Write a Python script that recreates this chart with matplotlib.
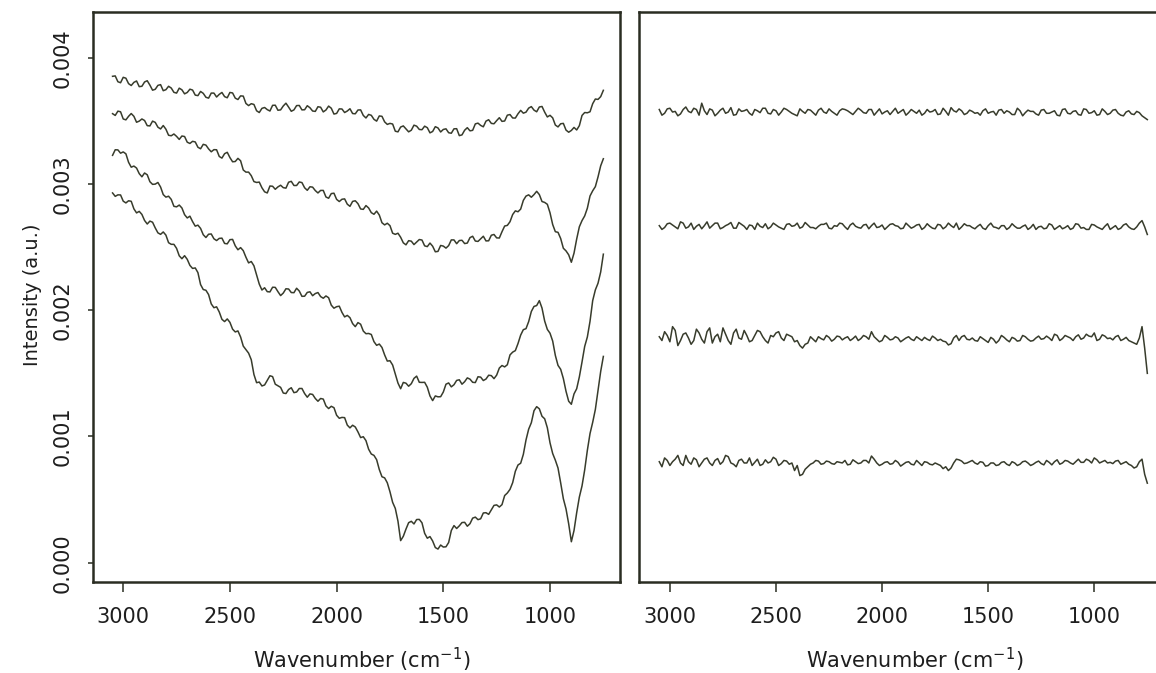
import matplotlib
matplotlib.use("Agg")
import matplotlib.pyplot as plt
import numpy as np

plt.rcParams['font.family'] = ['DejaVu Sans']
plt.rcParams['mathtext.default'] = 'regular'

# ---------------- data (intensity values in units of 1e-6 a.u.) ----------------
wavenumber = [3050, 3037.5, 3025, 3012.5, 3000, 2987.5, 2975, 2962.5, 2950, 2937.5,
              2925, 2912.5, 2900, 2887.5, 2875, 2862.5, 2850, 2837.5, 2825, 2812.5,
              2800, 2787.5, 2775, 2762.5, 2750, 2737.5, 2725, 2712.5, 2700, 2687.5,
              2675, 2662.5, 2650, 2637.5, 2625, 2612.5, 2600, 2587.5, 2575, 2562.5,
              2550, 2537.5, 2525, 2512.5, 2500, 2487.5, 2475, 2462.5, 2450, 2437.5,
              2425, 2412.5, 2400, 2387.5, 2375, 2362.5, 2350, 2337.5, 2325, 2312.5,
              2300, 2287.5, 2275, 2262.5, 2250, 2237.5, 2225, 2212.5, 2200, 2187.5,
              2175, 2162.5, 2150, 2137.5, 2125, 2112.5, 2100, 2087.5, 2075, 2062.5,
              2050, 2037.5, 2025, 2012.5, 2000, 1987.5, 1975, 1962.5, 1950, 1937.5,
              1925, 1912.5, 1900, 1887.5, 1875, 1862.5, 1850, 1837.5, 1825, 1812.5,
              1800, 1787.5, 1775, 1762.5, 1750, 1737.5, 1725, 1712.5, 1700, 1687.5,
              1675, 1662.5, 1650, 1637.5, 1625, 1612.5, 1600, 1587.5, 1575, 1562.5,
              1550, 1537.5, 1525, 1512.5, 1500, 1487.5, 1475, 1462.5, 1450, 1437.5,
              1425, 1412.5, 1400, 1387.5, 1375, 1362.5, 1350, 1337.5, 1325, 1312.5,
              1300, 1287.5, 1275, 1262.5, 1250, 1237.5, 1225, 1212.5, 1200, 1187.5,
              1175, 1162.5, 1150, 1137.5, 1125, 1112.5, 1100, 1087.5, 1075, 1062.5,
              1050, 1037.5, 1025, 1012.5, 1000, 987.5, 975, 962.5, 950, 937.5,
              925, 912.5, 900, 887.5, 875, 862.5, 850, 837.5, 825, 812.5,
              800, 787.5, 775, 762.5, 750]

left_a = [3853, 3856, 3810, 3802, 3845, 3838, 3795, 3780, 3805, 3816,
          3771, 3774, 3808, 3818, 3783, 3743, 3750, 3781, 3787, 3739,
          3747, 3774, 3760, 3726, 3720, 3759, 3746, 3714, 3725, 3751,
          3744, 3704, 3700, 3733, 3718, 3687, 3680, 3720, 3720, 3689,
          3710, 3725, 3692, 3683, 3725, 3721, 3680, 3669, 3698, 3696,
          3638, 3621, 3636, 3630, 3580, 3566, 3599, 3606, 3589, 3578,
          3623, 3624, 3584, 3587, 3618, 3640, 3609, 3576, 3587, 3621,
          3622, 3587, 3588, 3620, 3604, 3578, 3575, 3612, 3608, 3571,
          3586, 3617, 3600, 3554, 3559, 3595, 3594, 3566, 3578, 3596,
          3558, 3556, 3586, 3587, 3543, 3523, 3551, 3544, 3512, 3498,
          3539, 3536, 3492, 3472, 3480, 3475, 3418, 3413, 3451, 3460,
          3436, 3413, 3426, 3466, 3458, 3432, 3430, 3458, 3446, 3405,
          3416, 3454, 3444, 3412, 3432, 3437, 3406, 3402, 3437, 3438,
          3383, 3389, 3426, 3446, 3421, 3425, 3476, 3482, 3464, 3453,
          3498, 3509, 3480, 3477, 3502, 3525, 3496, 3499, 3545, 3550,
          3523, 3522, 3556, 3583, 3561, 3569, 3601, 3613, 3585, 3572,
          3610, 3614, 3569, 3531, 3544, 3524, 3467, 3452, 3477, 3480,
          3427, 3410, 3424, 3448, 3428, 3462, 3543, 3566, 3564, 3572,
          3636, 3673, 3670, 3692, 3742]

left_b = [3557, 3543, 3577, 3572, 3515, 3508, 3536, 3558, 3536, 3489,
          3498, 3515, 3503, 3462, 3460, 3498, 3488, 3450, 3436, 3463,
          3434, 3386, 3382, 3396, 3377, 3353, 3380, 3376, 3331, 3321,
          3338, 3333, 3291, 3279, 3314, 3308, 3278, 3255, 3272, 3271,
          3218, 3205, 3240, 3251, 3209, 3176, 3178, 3203, 3184, 3111,
          3094, 3094, 3066, 3019, 3012, 3015, 2970, 2938, 2929, 2984,
          2982, 2958, 2977, 2990, 2971, 2967, 3014, 3021, 2988, 2988,
          3016, 3011, 2970, 2950, 2978, 2975, 2948, 2929, 2949, 2949,
          2897, 2887, 2924, 2927, 2878, 2861, 2879, 2882, 2840, 2823,
          2862, 2867, 2844, 2802, 2799, 2829, 2810, 2773, 2760, 2785,
          2754, 2693, 2676, 2689, 2670, 2610, 2601, 2610, 2578, 2534,
          2518, 2551, 2547, 2520, 2540, 2560, 2556, 2510, 2504, 2532,
          2507, 2463, 2466, 2513, 2508, 2492, 2512, 2557, 2557, 2527,
          2552, 2554, 2528, 2532, 2575, 2586, 2548, 2545, 2566, 2586,
          2549, 2550, 2594, 2600, 2573, 2572, 2622, 2667, 2672, 2701,
          2758, 2787, 2780, 2801, 2870, 2904, 2914, 2895, 2916, 2942,
          2916, 2861, 2854, 2839, 2772, 2679, 2622, 2617, 2568, 2491,
          2470, 2439, 2380, 2452, 2564, 2661, 2710, 2747, 2808, 2905,
          2946, 2979, 3056, 3144, 3200]

left_c = [3227, 3271, 3270, 3244, 3254, 3239, 3172, 3133, 3142, 3126,
          3082, 3057, 3087, 3073, 3018, 2997, 2999, 3012, 2976, 2916,
          2896, 2903, 2878, 2823, 2819, 2833, 2810, 2757, 2731, 2745,
          2702, 2666, 2674, 2648, 2598, 2576, 2602, 2604, 2566, 2552,
          2569, 2571, 2529, 2526, 2559, 2561, 2510, 2479, 2496, 2472,
          2420, 2375, 2386, 2352, 2278, 2207, 2160, 2178, 2147, 2145,
          2182, 2181, 2147, 2116, 2136, 2170, 2168, 2140, 2139, 2174,
          2152, 2110, 2111, 2141, 2146, 2115, 2132, 2140, 2108, 2095,
          2113, 2099, 2040, 2016, 2028, 2032, 1983, 1947, 1959, 1941,
          1894, 1870, 1902, 1889, 1835, 1814, 1816, 1808, 1751, 1722,
          1732, 1705, 1646, 1597, 1600, 1566, 1496, 1423, 1378, 1428,
          1422, 1398, 1418, 1460, 1478, 1429, 1428, 1429, 1390, 1321,
          1284, 1321, 1314, 1315, 1352, 1414, 1424, 1393, 1410, 1444,
          1449, 1414, 1434, 1464, 1454, 1429, 1427, 1473, 1470, 1443,
          1455, 1485, 1482, 1458, 1486, 1542, 1562, 1551, 1568, 1646,
          1668, 1680, 1736, 1803, 1846, 1854, 1910, 1990, 2030, 2037,
          2076, 2017, 1914, 1848, 1818, 1756, 1642, 1563, 1532, 1459,
          1358, 1279, 1255, 1337, 1378, 1472, 1590, 1713, 1788, 1912,
          2076, 2161, 2214, 2303, 2444]

left_d = [2929, 2902, 2914, 2913, 2864, 2850, 2867, 2863, 2803, 2771,
          2783, 2759, 2711, 2683, 2706, 2697, 2652, 2613, 2601, 2620,
          2595, 2535, 2522, 2522, 2490, 2431, 2408, 2432, 2403, 2355,
          2331, 2335, 2298, 2203, 2164, 2158, 2124, 2050, 2020, 2027,
          1986, 1928, 1910, 1931, 1904, 1850, 1828, 1836, 1788, 1716,
          1688, 1660, 1608, 1491, 1426, 1431, 1400, 1408, 1444, 1481,
          1474, 1414, 1402, 1389, 1344, 1340, 1372, 1386, 1347, 1352,
          1380, 1380, 1340, 1311, 1337, 1333, 1301, 1279, 1301, 1296,
          1242, 1221, 1239, 1228, 1168, 1144, 1151, 1149, 1090, 1068,
          1089, 1075, 1036, 991, 998, 967, 899, 861, 850, 816,
          738, 681, 672, 633, 562, 478, 430, 329, 175, 209,
          266, 317, 328, 307, 342, 343, 316, 233, 194, 207,
          172, 120, 108, 140, 124, 126, 160, 255, 294, 271,
          292, 318, 320, 289, 309, 353, 361, 341, 348, 394,
          396, 383, 418, 454, 458, 441, 460, 532, 552, 581,
          634, 724, 774, 788, 858, 972, 1058, 1109, 1204, 1236,
          1219, 1160, 1140, 1069, 950, 865, 812, 750, 632, 507,
          426, 308, 166, 255, 396, 520, 608, 735, 890, 1023,
          1112, 1214, 1364, 1515, 1634]

right_a = [3590, 3545, 3560, 3595, 3600, 3570, 3575, 3540, 3555, 3590,
           3610, 3575, 3565, 3600, 3590, 3545, 3640, 3580, 3550, 3595,
           3585, 3540, 3560, 3585, 3600, 3560, 3570, 3605, 3545, 3550,
           3595, 3575, 3580, 3590, 3560, 3545, 3590, 3580, 3565, 3600,
           3600, 3560, 3555, 3590, 3580, 3545, 3570, 3600, 3590, 3575,
           3560, 3550, 3540, 3595, 3575, 3560, 3590, 3585, 3565, 3545,
           3585, 3600, 3570, 3560, 3595, 3575, 3560, 3545, 3580, 3595,
           3590, 3580, 3565, 3550, 3575, 3600, 3585, 3565, 3560, 3590,
           3590, 3545, 3570, 3595, 3555, 3570, 3580, 3550, 3575, 3600,
           3560, 3575, 3590, 3545, 3565, 3590, 3575, 3560, 3585, 3545,
           3560, 3590, 3570, 3575, 3590, 3550, 3555, 3600, 3575, 3545,
           3605, 3580, 3570, 3595, 3580, 3550, 3560, 3585, 3575, 3560,
           3565, 3545, 3580, 3595, 3560, 3570, 3575, 3545, 3585, 3590,
           3560, 3580, 3570, 3550, 3550, 3600, 3580, 3540, 3565, 3585,
           3575, 3575, 3555, 3545, 3585, 3590, 3560, 3560, 3570, 3580,
           3545, 3540, 3590, 3595, 3560, 3555, 3575, 3580, 3550, 3545,
           3595, 3590, 3560, 3565, 3580, 3545, 3550, 3595, 3575, 3550,
           3560, 3585, 3590, 3560, 3545, 3540, 3570, 3580, 3555, 3550,
           3575, 3565, 3540, 3525, 3510]

right_b = [2670, 2640, 2655, 2685, 2690, 2675, 2660, 2645, 2700, 2690,
           2650, 2660, 2690, 2640, 2665, 2680, 2645, 2670, 2700, 2650,
           2670, 2690, 2690, 2645, 2655, 2670, 2680, 2695, 2650, 2650,
           2695, 2680, 2665, 2640, 2675, 2670, 2640, 2690, 2665, 2655,
           2685, 2645, 2660, 2690, 2675, 2660, 2650, 2640, 2680, 2685,
           2665, 2670, 2690, 2650, 2660, 2695, 2675, 2655, 2655, 2645,
           2665, 2680, 2680, 2690, 2650, 2645, 2670, 2665, 2690, 2685,
           2660, 2640, 2675, 2690, 2665, 2655, 2650, 2675, 2680, 2645,
           2670, 2690, 2655, 2660, 2675, 2640, 2660, 2680, 2685, 2670,
           2665, 2645, 2650, 2690, 2670, 2650, 2660, 2675, 2680, 2640,
           2655, 2685, 2665, 2650, 2645, 2680, 2675, 2645, 2660, 2690,
           2670, 2655, 2690, 2640, 2660, 2685, 2670, 2670, 2655, 2645,
           2665, 2680, 2650, 2640, 2670, 2690, 2660, 2655, 2645, 2670,
           2670, 2640, 2655, 2685, 2665, 2650, 2650, 2665, 2675, 2640,
           2655, 2680, 2640, 2660, 2665, 2645, 2650, 2685, 2675, 2640,
           2655, 2670, 2645, 2655, 2670, 2640, 2650, 2685, 2680, 2650,
           2655, 2640, 2640, 2680, 2675, 2660, 2650, 2640, 2665, 2685,
           2640, 2655, 2670, 2640, 2650, 2675, 2685, 2660, 2645, 2640,
           2660, 2690, 2710, 2660, 2600]

right_c = [1790, 1760, 1830, 1800, 1750, 1870, 1840, 1720, 1760, 1810,
           1820, 1780, 1730, 1760, 1850, 1820, 1770, 1740, 1830, 1860,
           1740, 1790, 1810, 1750, 1860, 1810, 1760, 1730, 1820, 1850,
           1780, 1770, 1840, 1800, 1750, 1760, 1800, 1840, 1830, 1790,
           1760, 1740, 1800, 1790, 1820, 1830, 1780, 1760, 1810, 1800,
           1790, 1750, 1760, 1720, 1700, 1730, 1740, 1790, 1770, 1750,
           1790, 1775, 1765, 1800, 1785, 1755, 1770, 1795, 1790, 1765,
           1780, 1790, 1760, 1775, 1795, 1760, 1775, 1800, 1790, 1770,
           1830, 1790, 1770, 1750, 1760, 1800, 1785, 1765, 1770, 1790,
           1780, 1750, 1765, 1780, 1790, 1770, 1760, 1790, 1775, 1760,
           1785, 1770, 1760, 1795, 1780, 1760, 1770, 1755, 1750, 1725,
           1735, 1780, 1800, 1760, 1790, 1800, 1770, 1765, 1780, 1760,
           1755, 1790, 1775, 1760, 1745, 1785, 1770, 1740, 1760, 1800,
           1785, 1765, 1750, 1785, 1775, 1755, 1760, 1800, 1790, 1770,
           1755, 1760, 1780, 1795, 1770, 1775, 1795, 1780, 1760, 1810,
           1800, 1760, 1775, 1800, 1790, 1780, 1760, 1790, 1805, 1770,
           1780, 1810, 1795, 1790, 1820, 1760, 1770, 1805, 1795, 1775,
           1780, 1765, 1790, 1800, 1760, 1770, 1785, 1760, 1750, 1740,
           1730, 1780, 1870, 1700, 1500]

right_d = [800, 760, 830, 810, 770, 800, 820, 850, 790, 770,
           850, 800, 780, 830, 815, 760, 790, 820, 830, 790,
           770, 810, 825, 780, 800, 850, 840, 790, 780, 760,
           810, 820, 790, 790, 830, 770, 795, 820, 770, 780,
           815, 790, 800, 835, 820, 770, 785, 810, 805, 780,
           790, 730, 770, 690, 700, 740, 760, 780, 790, 810,
           805, 780, 785, 805, 800, 785, 780, 800, 795, 790,
           810, 775, 780, 815, 800, 785, 790, 810, 810, 790,
           845, 820, 790, 770, 780, 795, 800, 780, 785, 810,
           795, 765, 780, 795, 800, 780, 775, 810, 790, 770,
           800, 795, 780, 775, 790, 780, 770, 745, 760, 730,
           750, 790, 820, 815, 805, 785, 790, 800, 810, 790,
           780, 800, 795, 765, 770, 790, 790, 770, 775, 795,
           800, 780, 770, 800, 790, 770, 780, 800, 805, 790,
           770, 780, 795, 805, 785, 775, 810, 795, 775, 800,
           815, 780, 790, 810, 805, 790, 780, 800, 820, 795,
           795, 820, 810, 790, 830, 815, 790, 800, 810, 790,
           795, 785, 805, 810, 780, 790, 800, 780, 770, 750,
           760, 800, 820, 700, 630]

x_ticks = [3000, 2500, 2000, 1500, 1000]
x_tick_labels = ['3000', '2500', '2000', '1500', '1000']
y_ticks = [0.000, 0.001, 0.002, 0.003, 0.004]
y_tick_labels = ['0.000', '0.001', '0.002', '0.003', '0.004']
UNIT = 1e-6

# ---------------- figure ----------------
W, H = 1156, 673
fig = plt.figure(figsize=(W / 100, H / 100), dpi=100)
fig.patch.set_facecolor('white')


def rect(x0, y0, x1, y1):
    return [x0 / W, 1 - y1 / H, (x1 - x0) / W, (y1 - y0) / H]


axL = fig.add_axes(rect(92.5, 12.3, 620, 581.7))
axR = fig.add_axes(rect(638.7, 12.3, 1180, 581.7))

line_col = '#383c2c'
frame_col = '#2a2d22'
text_col = '#1e1e1e'

wn = np.array(wavenumber)
for ax, curves in ((axL, (left_a, left_b, left_c, left_d)),
                   (axR, (right_a, right_b, right_c, right_d))):
    for c in curves:
        ax.plot(wn, np.array(c) * UNIT, color=line_col, lw=1.1)
    for s in ax.spines.values():
        s.set_color(frame_col)
        s.set_linewidth(1.8)
    ax.set_ylim(-0.0001505, 0.00436)
    ax.set_xticks(x_ticks)
    ax.set_xticklabels(x_tick_labels, fontsize=15, color=text_col)
    ax.tick_params(axis='x', direction='out', length=7.2, width=1.1,
                   pad=11, color=frame_col)

axL.set_xlim(3144, 672)
axR.set_xlim(3147, 596)

axL.set_yticks(y_ticks)
axL.set_yticklabels(y_tick_labels, fontsize=15, color=text_col,
                    rotation=90, va='center')
axL.tick_params(axis='y', direction='out', length=3.6, width=1.1,
                pad=11, color=frame_col)
axR.set_yticks([])

fig.text(33 / W, 1 - 295 / H, 'Intensity (a.u.)', rotation=90,
         ha='center', va='center', fontsize=14, color=text_col)
fig.text(362 / W, 1 - 660 / H, 'Wavenumber (cm$^{-1}$)',
         ha='center', va='center', fontsize=15, color=text_col)
fig.text(915 / W, 1 - 660 / H, 'Wavenumber (cm$^{-1}$)',
         ha='center', va='center', fontsize=15, color=text_col)

fig.savefig('out.png', dpi=100, facecolor='white')
